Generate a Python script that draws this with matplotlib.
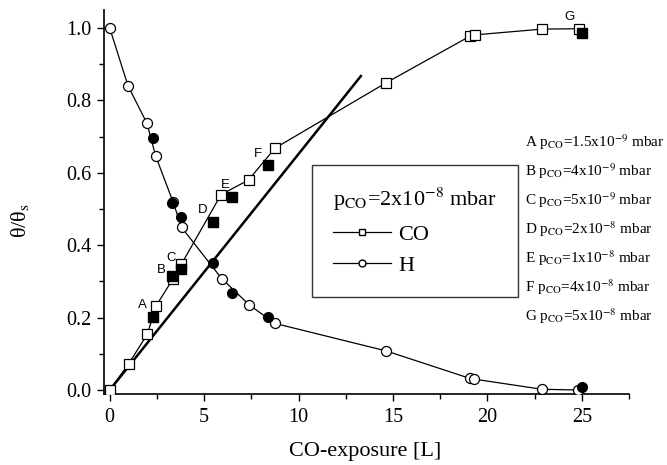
import matplotlib
import matplotlib.pyplot as plt
from matplotlib.lines import Line2D

matplotlib.use('Agg')

plt.rcParams['font.family'] = ['Liberation Serif', 'DejaVu Serif']
plt.rcParams['mathtext.fontset'] = 'stix'

# CO coverage at p_CO = 2x10^-8 mbar (open squares)
co_x = [0.0, 1.0, 2.0, 2.45, 3.35, 3.8, 5.9, 7.35, 8.75, 14.65, 19.1, 19.35, 22.9, 24.85]
co_y = [0.0, 0.072, 0.155, 0.232, 0.307, 0.348, 0.54, 0.58, 0.668, 0.849, 0.978, 0.981, 0.997, 0.998]

# H coverage at p_CO = 2x10^-8 mbar (open circles)
h_x = [0.0, 0.97, 1.97, 2.43, 3.35, 3.81, 5.93, 7.39, 8.75, 14.64, 19.08, 19.31, 22.9, 24.8]
h_y = [1.0, 0.84, 0.737, 0.647, 0.52, 0.449, 0.308, 0.235, 0.184, 0.108, 0.032, 0.030, 0.002, 0.0]

# other pressures, A-G (filled symbols)
pt_labels = ['A', 'B', 'C', 'D', 'E', 'F', 'G']
pt_x = [2.3, 3.3, 3.75, 5.45, 6.45, 8.4, 25.0]
pt_co = [0.203, 0.315, 0.335, 0.463, 0.533, 0.621, 0.987]
pt_h = [0.695, 0.517, 0.479, 0.352, 0.267, 0.203, 0.009]
pt_p = ['1.5x10$^{-9}$', '4x10$^{-9}$', '5x10$^{-9}$', '2x10$^{-8}$',
        '1x10$^{-8}$', '4x10$^{-8}$', '5x10$^{-8}$']

# initial slope line
fit_x = [0.0, 13.3]
fit_slope = 0.0652

fig = plt.figure(figsize=(6.67, 4.65), dpi=100)
ax = fig.add_axes([0.156, 0.1527, 0.787, 0.826])

ax.plot(co_x, co_y, '-', color='k', lw=0.9, marker='s', ms=6.5,
        mfc='white', mec='k', mew=0.9, zorder=3)
ax.plot(h_x, h_y, '-', color='k', lw=0.9, marker='o', ms=7.2,
        mfc='white', mec='k', mew=0.9, zorder=3)
ax.plot(pt_x, pt_co, 's', color='k', ms=6.5, zorder=4)
ax.plot(pt_x, pt_h, 'o', color='k', ms=7, zorder=4)
ax.plot(fit_x, [fit_slope * x for x in fit_x], '-', color='k', lw=1.8, zorder=2)

# letter labels next to the filled squares
offsets = [(-0.55, 0.032), (-0.57, 0.016), (-0.49, 0.03), (-0.53, 0.034),
           (-0.31, 0.033), (-0.57, 0.031), (-0.66, 0.044)]
for lab, x, y, (dx, dy) in zip(pt_labels, pt_x, pt_co, offsets):
    ax.text(x + dx, y + dy, lab, family='Liberation Sans', fontsize=9.5,
            ha='center', va='center')

# pressure list on the right
for i, (lab, p) in enumerate(zip(pt_labels, pt_p)):
    fig.text(0.787, 0.6946 - i * 0.0624, lab + r' p$_{\mathrm{CO}}$=' + p + ' mbar',
             fontsize=11, ha='left', va='center')

ax.set_xlim(-0.3, 27.5)
ax.set_ylim(-0.011, 1.05)
ax.set_xticks([0, 5, 10, 15, 20, 25])
ax.set_xticks([2.5, 7.5, 12.5, 17.5, 22.5, 27.5], minor=True)
ax.set_yticks([0.0, 0.2, 0.4, 0.6, 0.8, 1.0])
ax.set_yticks([0.1, 0.3, 0.5, 0.7, 0.9], minor=True)
ax.set_yticklabels(['0.0', '0.2', '0.4', '0.6', '0.8', '1.0'])
ax.tick_params(which='major', direction='out', length=5, width=1, labelsize=14.5)
ax.tick_params(which='minor', direction='out', length=3.5, width=1)
ax.tick_params(axis='x', which='major', pad=5)
ax.tick_params(axis='y', which='major', pad=4)
ax.spines['top'].set_visible(False)
ax.spines['right'].set_visible(False)
for s in ('left', 'bottom'):
    ax.spines[s].set_linewidth(1.2)

ax.set_xlabel('CO-exposure [L]', fontsize=16, va='center')
ax.xaxis.set_label_coords(0.497, -0.151)
ax.set_ylabel(r'θ/θ$_{\mathrm{s}}$', fontsize=16, va='center')
ax.yaxis.set_label_coords(-0.16, 0.453)

handles = [
    Line2D([], [], color='k', lw=0.9, marker='s', ms=5, mfc='white', mec='k'),
    Line2D([], [], color='k', lw=0.9, marker='o', ms=5, mfc='white', mec='k'),
]
leg = ax.legend(handles, ['CO', 'H'], title=r'p$_{\mathrm{CO}}$=2x10$^{-8}$ mbar',
                loc='upper left', bbox_to_anchor=(0.396, 0.596), fontsize=16,
                title_fontsize=16, frameon=True, fancybox=False, handlelength=2.6,
                handletextpad=0.35, borderpad=0.95, labelspacing=0.48,
                borderaxespad=0, alignment='left')
leg.get_frame().set_edgecolor('k')
leg.get_frame().set_linewidth(1.0)

fig.savefig('out.png', dpi=100)
